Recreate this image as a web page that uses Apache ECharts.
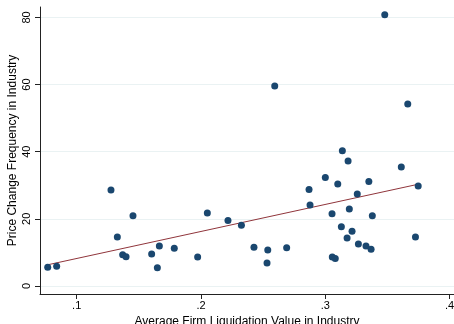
<!DOCTYPE html>
<html>
<head>
<meta charset="utf-8">
<script src="https://cdn.jsdelivr.net/npm/echarts@6/dist/echarts.min.js"></script>
<style>html,body{margin:0;padding:0;background:#fff}#c{width:454px;height:324px}</style>
</head>
<body>
<div id="c"></div>
<script>
const liqValue = [0.0767,0.0839,0.1276,0.1327,0.1370,0.1397,0.1453,0.1603,0.1649,0.1665,0.1785,0.1973,0.2051,0.2217,0.2325,0.2426,0.2537,0.2531,0.2593,0.2689,0.2869,0.2877,0.3000,0.3054,0.3056,0.3080,0.3100,0.3129,0.3137,0.3175,0.3183,0.3193,0.3215,0.3257,0.3266,0.3327,0.3350,0.3368,0.3378,0.3478,0.3611,0.3663,0.3725,0.3747];
const priceFreq = [5.6,5.9,28.6,14.6,9.3,8.7,20.9,9.5,5.4,11.9,11.2,8.6,21.75,19.5,18.1,11.5,10.7,6.85,59.6,11.4,28.7,24.1,32.3,21.5,8.6,8.2,30.4,17.6,40.3,14.3,37.2,22.9,16.3,27.4,12.5,11.9,31.1,10.9,20.9,80.8,35.4,54.2,14.6,29.8];
const fitX = [0.0767, 0.3747];
const fitY = [6.3, 30.3];
const xTicks = [0.1, 0.2, 0.3, 0.4];
const yTicks = [0, 20, 40, 60, 80];

const chart = echarts.init(document.getElementById('c'), null, {renderer:'canvas'});
const font = 'Liberation Sans, Arial, sans-serif';
chart.setOption({
  animation: false,
  backgroundColor: '#fff',
  grid: {left: 40, right: 0, top: 7, bottom: 30, containLabel: false, outerBoundsMode: 'none'},
  xAxis: {
    type: 'value', min: 0.0705, max: 0.4035,
    name: 'Average Firm Liquidation Value in Industry',
    nameLocation: 'middle', nameGap: 20,
    nameTextStyle: {color: '#000', fontSize: 12, fontFamily: font},
    axisLine: {show: true, onZero: false, lineStyle: {color: '#222', width: 1}},
    axisTick: {show: true, length: 5, customValues: xTicks, lineStyle: {color: '#222'}},
    axisLabel: {customValues: xTicks, color: '#000', fontSize: 11, fontFamily: font, margin: 6,
      formatter: v => String(Math.round(v*10)/10).replace(/^0/, '')},
    splitLine: {show: false}
  },
  yAxis: {
    type: 'value', min: -2.4, max: 83.1,
    name: 'Price Change Frequency in Industry',
    nameLocation: 'middle', nameGap: 21, nameRotate: 90, nameMoveOverlap: false,
    nameTextStyle: {color: '#000', fontSize: 12, fontFamily: font},
    axisLine: {show: true, onZero: false, lineStyle: {color: '#222', width: 1}},
    axisTick: {show: true, length: 5, customValues: yTicks, lineStyle: {color: '#222'}},
    axisLabel: {customValues: yTicks, color: '#000', fontSize: 11, fontFamily: font, rotate: 90, margin: 8},
    splitLine: {show: true, lineStyle: {color: '#eaf2f3', width: 1}}
  },
  series: [
    {type: 'scatter', data: liqValue.map((x, i) => [x, priceFreq[i]]), symbolSize: 7,
     itemStyle: {color: '#1a476f', opacity: 1}, z: 3},
    {type: 'line', data: fitX.map((x, i) => [x, fitY[i]]), symbol: 'none',
     lineStyle: {color: '#90353b', width: 1}, z: 2}
  ]
});
</script>
</body>
</html>
